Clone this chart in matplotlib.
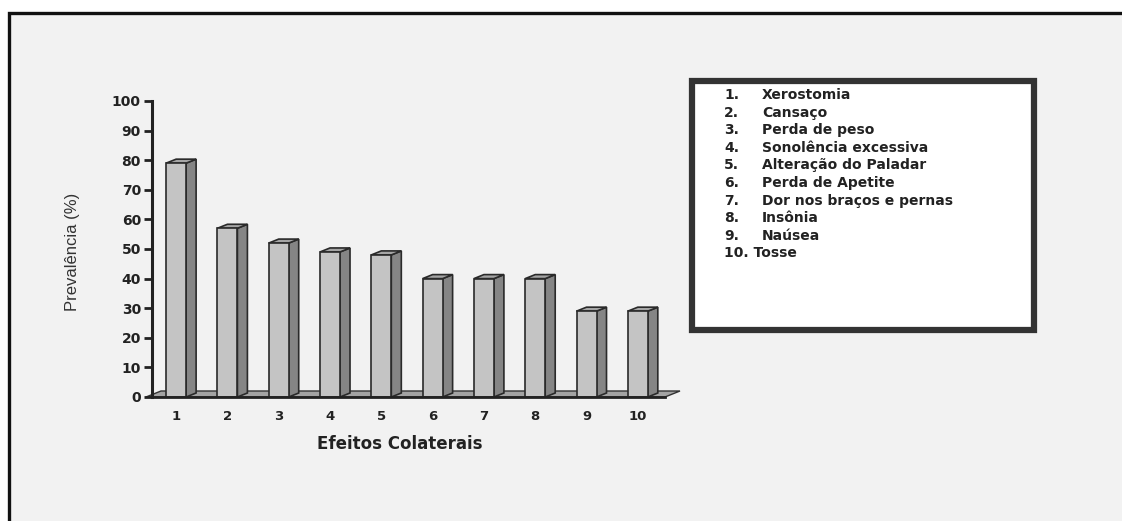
import matplotlib
matplotlib.use("Agg")
import matplotlib.pyplot as plt
import matplotlib.patches as patches

# side effects and their prevalence (%)
efeitos = ["Xerostomia", "Cansaço", "Perda de peso", "Sonolência excessiva",
           "Alteração do Paladar", "Perda de Apetite", "Dor nos braços e pernas",
           "Insônia", "Naúsea", "Tosse"]
posicoes = [1, 2, 3, 4, 5, 6, 7, 8, 9, 10]
prevalencia = [79, 57, 52, 49, 48, 40, 40, 40, 29, 29]
yticks = [0, 10, 20, 30, 40, 50, 60, 70, 80, 90, 100]

W, H = 1122, 521
fig = plt.figure(figsize=(W / 100, H / 100), dpi=100)
fig.patch.set_facecolor("white")

# outer frame of the slide
frame = patches.Rectangle((9 / W, -0.05), 1.1, (H - 13) / H + 0.05,
                          transform=fig.transFigure, facecolor="#f2f2f2",
                          edgecolor="#111111", linewidth=2.4, zorder=-5)
fig.patches.append(frame)

# axes placed in pixel terms
ax_l, ax_r, ax_b, ax_t = 152, 665, 397, 101
ax = fig.add_axes([ax_l / W, (H - ax_b) / H, (ax_r - ax_l) / W, (ax_b - ax_t) / H])
ax.set_zorder(1)
ax.set_facecolor("none")
xmin, xmax = 0.53, 10.53
ax.set_xlim(xmin, xmax)
ax.set_ylim(0, 100)

# pixel -> data conversions for the 3D depth
px_x = (xmax - xmin) / (ax_r - ax_l)
px_y = 100 / (ax_b - ax_t)

# floor
fdx, fdy = 15 * px_x, 6 * px_y
floor = patches.Polygon([(xmin - 6 * px_x, 0), (xmax, 0), (xmax + fdx, fdy), (xmin - 6 * px_x + fdx, fdy)],
                        closed=True, facecolor="#a3a3a3", edgecolor="#333333",
                        linewidth=1.0, clip_on=False, zorder=1)
ax.add_patch(floor)

# bars with side and top faces
bw = 20 * px_x
bdx, bdy = 10 * px_x, 4 * px_y
ax.bar(posicoes, prevalencia, width=bw, color="#c4c4c4", edgecolor="#2a2a2a",
       linewidth=1.2, zorder=3, clip_on=False)
for x, v in zip(posicoes, prevalencia):
    r = x + bw / 2
    l = x - bw / 2
    side = patches.Polygon([(r, 0), (r + bdx, bdy), (r + bdx, v + bdy), (r, v)],
                           closed=True, facecolor="#858585", edgecolor="#2a2a2a",
                           linewidth=1.2, clip_on=False, zorder=2)
    top = patches.Polygon([(l, v), (r, v), (r + bdx, v + bdy), (l + bdx, v + bdy)],
                          closed=True, facecolor="#a5a5a5", edgecolor="#2a2a2a",
                          linewidth=1.2, clip_on=False, zorder=2)
    ax.add_patch(side)
    ax.add_patch(top)

# spines and ticks
for s in ["top", "right"]:
    ax.spines[s].set_visible(False)
ax.spines["left"].set_linewidth(2.2)
ax.spines["left"].set_color("#222222")
ax.spines["bottom"].set_linewidth(2.0)
ax.spines["bottom"].set_color("#222222")
ax.spines["bottom"].set_zorder(4)

ax.set_yticks(yticks)
ax.set_yticklabels([str(t) for t in yticks], fontsize=10, fontweight="bold",
                   family="DejaVu Sans", color="#222222")
ax.tick_params(axis="y", direction="out", length=6, width=2, color="#222222", pad=2)
ax.set_xticks(posicoes)
ax.set_xticklabels([str(p) for p in posicoes], fontsize=9.5, fontweight="bold",
                   family="DejaVu Sans", color="#222222")
ax.tick_params(axis="x", length=0, pad=9)

ax.set_ylabel("Prevalência (%)", fontsize=12,
              family=["Liberation Sans Narrow", "Liberation Sans"], color="#333333")
ax.set_xlabel("Efeitos Colaterais", fontsize=12, fontweight="bold",
              family="DejaVu Sans", color="#222222")
ax.xaxis.set_label_coords((400 - ax_l) / (ax_r - ax_l), -(444 - ax_b) / (ax_b - ax_t))
ax.xaxis.label.set_va("center")
ax.yaxis.set_label_coords(-(ax_l - 72) / (ax_r - ax_l), (ax_b - 252) / (ax_b - ax_t))
ax.yaxis.label.set_va("center")

# legend box with the numbered list
box = patches.Rectangle((692 / W, (H - 330) / H), (1034 - 692) / W, (330 - 81) / H,
                        transform=fig.transFigure, facecolor="white",
                        edgecolor="#333333", linewidth=4.5, zorder=2)
fig.patches.append(box)
for i, nome in enumerate(efeitos):
    y = (H - (95 + i * 17.6)) / H
    if i < 9:
        fig.text(724 / W, y, f"{i + 1}.", fontsize=10, fontweight="bold",
                 family="DejaVu Sans", color="#222222", va="center", zorder=3)
        fig.text(762 / W, y, nome, fontsize=10, fontweight="bold",
                 family="DejaVu Sans", color="#222222", va="center", zorder=3)
    else:
        fig.text(724 / W, y, f"{i + 1}. {nome}", fontsize=10, fontweight="bold",
                 family="DejaVu Sans", color="#222222", va="center", zorder=3)

fig.savefig("out.png", dpi=100, facecolor="white")
